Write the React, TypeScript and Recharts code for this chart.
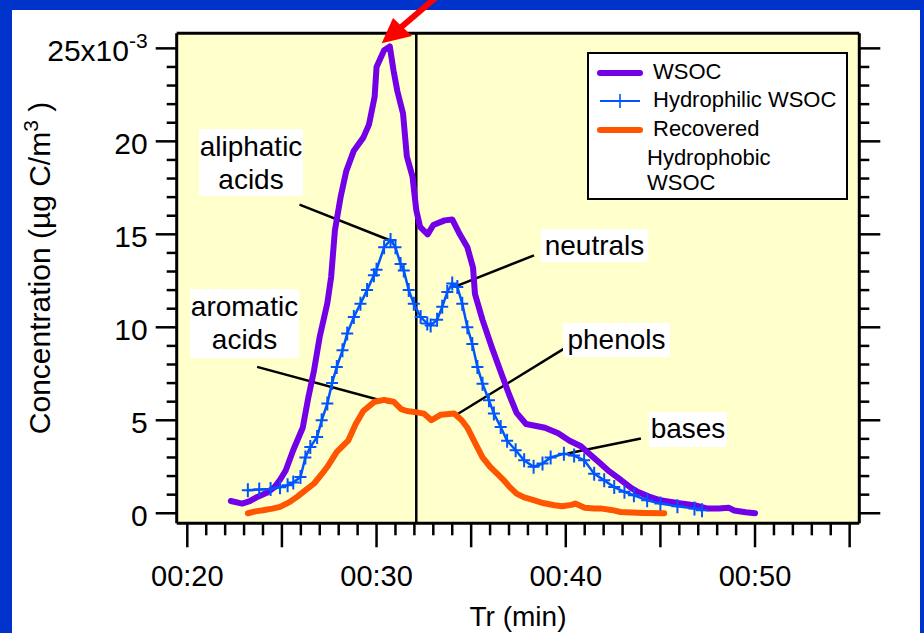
import React from "react";
import { LineChart, Line, XAxis, YAxis, CartesianGrid, ReferenceLine, Legend } from "recharts";

// retention time (min) and concentration (x10^-3 ug C/m3)
const wsocTime = [22.3, 22.9, 23.3, 23.7, 24.2, 24.6, 24.9, 25.2, 25.6, 26.1, 26.4, 26.7, 27.0, 27.4, 27.6, 27.8, 28.1, 28.4, 28.8, 29.3, 29.6, 29.9, 30.0, 30.4, 30.7, 30.9, 31.1, 31.4, 31.6, 31.9, 32.1, 32.3, 32.7, 33.0, 33.6, 34.0, 34.4, 34.8, 35.1, 35.2, 35.6, 36.1, 36.6, 37.0, 37.4, 37.9, 38.9, 39.6, 40.2, 40.8, 41.3, 41.8, 42.3, 42.9, 43.4, 43.8, 44.4, 45.0, 45.9, 46.8, 47.5, 48.1, 48.6, 48.9, 49.5, 50.0];
const wsocConc = [0.66, 0.52, 0.65, 0.88, 1.1, 1.4, 1.8, 2.3, 3.4, 4.6, 6.25, 7.7, 9.5, 11.3, 12.7, 15.2, 17.0, 18.4, 19.5, 20.2, 20.9, 22.4, 24.0, 24.9, 25.1, 23.8, 22.7, 21.5, 19.2, 18.1, 16.3, 15.4, 15.0, 15.5, 15.75, 15.8, 15.0, 14.3, 13.2, 11.8, 10.4, 8.9, 7.5, 6.4, 5.4, 4.8, 4.6, 4.3, 3.9, 3.6, 3.15, 2.7, 2.25, 1.8, 1.4, 1.15, 0.9, 0.7, 0.55, 0.43, 0.25, 0.25, 0.3, 0.15, 0.05, 0.0];

const philicTime = [23.2, 23.8, 24.4, 24.9, 25.3, 25.6, 25.98, 26.24, 26.5, 26.86, 27.1, 27.4, 27.65, 27.9, 28.2, 28.45, 28.8, 29.15, 29.5, 29.86, 30.0, 30.4, 30.74, 31.0, 31.27, 31.44, 31.7, 31.97, 32.33, 32.68, 32.86, 33.2, 33.47, 33.74, 34.0, 34.27, 34.53, 34.8, 35.06, 35.33, 35.6, 35.94, 36.2, 36.56, 36.9, 37.35, 37.8, 38.3, 38.77, 39.2, 39.9, 40.44, 40.97, 41.5, 42.03, 42.56, 43.1, 43.6, 44.3, 45.0, 45.9, 46.8, 47.2];
const philicConc = [1.24, 1.28, 1.3, 1.4, 1.5, 1.65, 1.95, 3.0, 3.56, 4.1, 5.0, 5.9, 7.0, 7.87, 8.76, 9.66, 10.55, 11.27, 12.0, 12.8, 13.1, 14.3, 14.7, 14.3, 13.4, 13.06, 12.0, 11.27, 10.55, 10.2, 10.1, 10.4, 11.1, 11.9, 12.35, 12.17, 11.27, 10.0, 9.1, 7.87, 6.97, 6.08, 5.36, 4.64, 3.9, 3.39, 2.85, 2.5, 2.67, 3.0, 3.2, 3.1, 2.85, 2.13, 1.77, 1.41, 1.15, 0.97, 0.7, 0.52, 0.38, 0.25, 0.16];

const phobicTime = [23.2, 23.6, 24.0, 24.5, 24.9, 25.4, 25.8, 26.2, 26.7, 27.1, 27.4, 27.9, 28.5, 28.9, 29.3, 29.9, 30.4, 30.9, 31.3, 31.6, 32.0, 32.5, 32.9, 33.4, 34.1, 34.5, 34.8, 35.3, 35.6, 36.0, 36.4, 36.7, 37.0, 37.4, 37.8, 38.3, 38.8, 39.4, 39.8, 40.3, 40.5, 41.0, 41.5, 41.9, 42.4, 42.9, 43.5, 44.1, 45.2];
const phobicConc = [0.0, 0.1, 0.16, 0.25, 0.34, 0.6, 0.88, 1.2, 1.6, 2.1, 2.5, 3.3, 3.9, 4.8, 5.5, 6.0, 6.1, 6.0, 5.6, 5.5, 5.45, 5.36, 5.0, 5.3, 5.36, 5.0, 4.6, 3.6, 3.0, 2.5, 2.1, 1.8, 1.45, 1.06, 0.85, 0.7, 0.55, 0.43, 0.38, 0.45, 0.52, 0.3, 0.25, 0.25, 0.18, 0.07, 0.04, 0.02, 0.0];

const xTicks = Array.from({ length: 36 }, (_, i) => 20 + i);
const yTicks = Array.from({ length: 26 }, (_, i) => i);
const markerTime = 32.1;

// leader lines: [label end, peak end] in (min, conc)
const leaders = [
  { name: "aliphatic acids", from: [25.93, 16.6], to: [30.9, 14.6] },
  { name: "aromatic acids", from: [23.69, 7.87], to: [30.74, 5.93] },
  { name: "neutrals", from: [38.32, 13.87], to: [34.18, 12.2] },
  { name: "phenols", from: [39.91, 8.85], to: [34.18, 5.27] },
  { name: "bases", from: [43.97, 4.02], to: [40.09, 3.21] },
];

const series = [
  { name: "WSOC", color: "#7300E6", time: wsocTime, conc: wsocConc },
  { name: "Hydrophilic WSOC", color: "#0055FF", time: philicTime, conc: philicConc },
  { name: "Recovered Hydrophobic WSOC", color: "#FF5500", time: phobicTime, conc: phobicConc },
];

const FONT = "'Liberation Sans', Arial, sans-serif";
const xDomain = [19.44, 55.51];
const yDomain = [-0.54, 25.81];

const toRows = (time: number[], conc: number[]) => time.map((t, i) => ({ t, v: conc[i] }));

const BottomTick = ({ x, y, payload }: any) => {
  const v = payload.value;
  const major = v % 5 === 0;
  return (
    <g>
      <line x1={x} y1={y} x2={x} y2={y + (major ? 24 : 12)} stroke="#000" strokeWidth={2.5} />
      {v % 10 === 0 && (
        <text x={x} y={y + 63} textAnchor="middle" fontSize={29} fontFamily={FONT} fill="#000">
          {`00:${v}`}
        </text>
      )}
    </g>
  );
};

const TopTick = ({ x, y, payload }: any) => {
  const major = payload.value % 5 === 0;
  return <line x1={x} y1={y} x2={x} y2={y - (major ? 21 : 10)} stroke="#000" strokeWidth={2.5} />;
};

const LeftTick = ({ x, y, payload }: any) => {
  const v = payload.value;
  const major = v % 5 === 0;
  return (
    <g>
      <line x1={x} y1={y} x2={x - (major ? 21 : 10)} y2={y} stroke="#000" strokeWidth={2.5} />
      {major && (
        <text x={x - 29} y={y + 13} textAnchor="end" fontSize={30} fontFamily={FONT} fill="#000">
          {v === 25 ? (
            <>
              25x10<tspan dy={-13} fontSize={21}>-3</tspan>
            </>
          ) : (
            v
          )}
        </text>
      )}
    </g>
  );
};

const RightTick = ({ x, y, payload }: any) => {
  const major = payload.value % 5 === 0;
  return <line x1={x} y1={y} x2={x + (major ? 21 : 10)} y2={y} stroke="#000" strokeWidth={2.5} />;
};

const PlusDot = (props: any) => {
  const { cx, cy, index } = props;
  return (
    <path
      key={`p${index}`}
      d={`M${cx - 6},${cy}h12M${cx},${cy - 7}v14`}
      stroke="#0055FF"
      strokeWidth={2}
      fill="none"
    />
  );
};

const LegendBox = () => (
  <div
    style={{
      width: 261,
      height: 148,
      boxSizing: "border-box",
      border: "2px solid #000",
      background: "#fff",
      position: "relative",
      fontFamily: FONT,
      fontSize: 22,
      color: "#000",
    }}
  >
    <svg width={60} height={100} style={{ position: "absolute", left: 0, top: 0 }}>
      <line x1={11} y1={19} x2={51} y2={19} stroke={series[0].color} strokeWidth={6} strokeLinecap="round" />
      <line x1={11} y1={47} x2={51} y2={47} stroke={series[1].color} strokeWidth={2} />
      <line x1={31} y1={40} x2={31} y2={54} stroke={series[1].color} strokeWidth={1.6} />
      <line x1={11} y1={76} x2={51} y2={76} stroke={series[2].color} strokeWidth={6} strokeLinecap="round" />
    </svg>
    <div style={{ position: "absolute", left: 64, top: 5 }}>{series[0].name}</div>
    <div style={{ position: "absolute", left: 64, top: 33 }}>{series[1].name}</div>
    <div style={{ position: "absolute", left: 64, top: 62 }}>Recovered</div>
    <div style={{ position: "absolute", left: 58, top: 91 }}>Hydrophobic</div>
    <div style={{ position: "absolute", left: 58, top: 116 }}>WSOC</div>
  </div>
);

const boxStyle: React.CSSProperties = {
  position: "absolute",
  background: "#fff",
  fontFamily: FONT,
  fontSize: 28,
  lineHeight: "33px",
  textAlign: "center",
  color: "#000",
};

const App: React.FC = () => {
  return (
    <div style={{ position: "absolute", left: 0, top: 0, width: 924, height: 633, background: "#0033CC", overflow: "hidden" }}>
      <div style={{ position: "absolute", left: 12, top: 10, width: 908, height: 623, background: "#fff" }} />
      <div style={{ position: "absolute", left: 0, top: 0 }}>
        <LineChart width={924} height={633} margin={{ top: 13.3, right: 44.7, bottom: 49.7, left: 116.7 }}>
          <CartesianGrid xAxisId="b" yAxisId="l" fill="#FFFFCC" horizontal={false} vertical={false} />
          <XAxis
            xAxisId="b"
            dataKey="t"
            type="number"
            domain={xDomain}
            allowDataOverflow
            ticks={xTicks}
            interval={0}
            height={60}
            tickSize={0}
            tickMargin={0}
            tick={<BottomTick />}
            axisLine={{ stroke: "#000", strokeWidth: 3 }}
          />
          <XAxis
            xAxisId="t"
            orientation="top"
            type="number"
            domain={xDomain}
            allowDataOverflow
            ticks={xTicks}
            interval={0}
            height={20}
            tickSize={0}
            tickMargin={0}
            tick={<TopTick />}
            axisLine={{ stroke: "#000", strokeWidth: 3 }}
          />
          <YAxis
            yAxisId="l"
            type="number"
            domain={yDomain}
            allowDataOverflow
            ticks={yTicks}
            interval={0}
            width={60}
            tickSize={0}
            tickMargin={0}
            tick={<LeftTick />}
            axisLine={{ stroke: "#000", strokeWidth: 3 }}
          />
          <YAxis
            yAxisId="r"
            orientation="right"
            type="number"
            domain={yDomain}
            allowDataOverflow
            ticks={yTicks}
            interval={0}
            width={20}
            tickSize={0}
            tickMargin={0}
            tick={<RightTick />}
            axisLine={{ stroke: "#000", strokeWidth: 3 }}
          />
          <ReferenceLine xAxisId="b" yAxisId="l" x={markerTime} stroke="#000" strokeWidth={2.5} />
          {leaders.map((l) => (
            <ReferenceLine
              key={l.name}
              xAxisId="b"
              yAxisId="l"
              segment={[
                { x: l.from[0], y: l.from[1] },
                { x: l.to[0], y: l.to[1] },
              ]}
              stroke="#000"
              strokeWidth={2.5}
              ifOverflow="visible"
            />
          ))}
          <Line
            xAxisId="b"
            yAxisId="l"
            data={toRows(phobicTime, phobicConc)}
            dataKey="v"
            name={series[2].name}
            stroke={series[2].color}
            strokeWidth={6}
            strokeLinejoin="round"
            strokeLinecap="round"
            dot={false}
            isAnimationActive={false}
          />
          <Line
            xAxisId="b"
            yAxisId="l"
            data={toRows(wsocTime, wsocConc)}
            dataKey="v"
            name={series[0].name}
            stroke={series[0].color}
            strokeWidth={6}
            strokeLinejoin="round"
            strokeLinecap="round"
            dot={false}
            isAnimationActive={false}
          />
          <Line
            xAxisId="b"
            yAxisId="l"
            data={toRows(philicTime, philicConc)}
            dataKey="v"
            name={series[1].name}
            stroke={series[1].color}
            strokeWidth={2.5}
            dot={PlusDot}
            isAnimationActive={false}
          />
          <Legend
            layout="horizontal"
            verticalAlign="middle"
            align="center"
            wrapperStyle={{ left: 587, top: 52, width: 261, height: 148 }}
            content={() => <LegendBox />}
          />
        </LineChart>
      </div>

      <div style={{ ...boxStyle, left: 199, top: 129, width: 104, height: 66, paddingTop: 1 }}>
        aliphatic
        <br />
        acids
      </div>
      <div style={{ ...boxStyle, left: 190, top: 289, width: 109, height: 68, paddingTop: 1 }}>
        aromatic
        <br />
        acids
      </div>
      <div style={{ ...boxStyle, left: 541, top: 229, width: 107, height: 33 }}>neutrals</div>
      <div style={{ ...boxStyle, left: 563, top: 323, width: 107, height: 34 }}>phenols</div>
      <div style={{ ...boxStyle, left: 649, top: 412, width: 78, height: 35 }}>bases</div>

      <svg width={924} height={633} style={{ position: "absolute", left: 0, top: 0, pointerEvents: "none" }}>
        <text transform="translate(50,268) rotate(-90)" textAnchor="middle" fontSize={30} fontFamily={FONT} fill="#000">
          Concentration (µg C/m<tspan dy={-12} fontSize={21}>3</tspan>
          <tspan dy={12}> )</tspan>
        </text>
        <text x={518} y={626} textAnchor="middle" fontSize={28} fontFamily={FONT} fill="#000">
          Tr (min)
        </text>
        <line x1={440} y1={-6} x2={399} y2={29} stroke="#FF0000" strokeWidth={6} />
        <polygon points="381.7,43.3 393,18 412,36" fill="#FF0000" />
      </svg>
    </div>
  );
};

export default App;
